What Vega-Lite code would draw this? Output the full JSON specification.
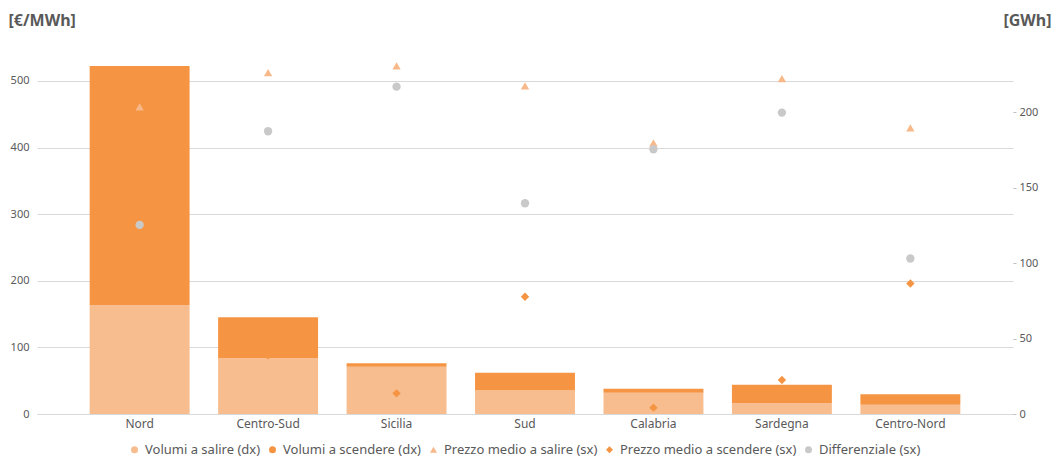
{
  "$schema": "https://vega.github.io/schema/vega-lite/v6.json",
  "width": 976,
  "height": 353,
  "autosize": {"type": "none"},
  "padding": {"left": 37, "top": 61, "right": 40, "bottom": 45},
  "background": "white",
  "config": {
    "font": "Noto Sans",
    "view": {"stroke": null},
    "axis": {"labelColor": "#595959", "labelFontSize": 11, "titleColor": "#595959"},
    "legend": {"labelColor": "#595959", "labelFontSize": 13}
  },
  "data": {
    "values": [
      {"regione": "Nord", "serie": "Volumi a salire (dx)", "valore": 72},
      {"regione": "Nord", "serie": "Volumi a scendere (dx)", "valore": 158.5},
      {"regione": "Centro-Sud", "serie": "Volumi a salire (dx)", "valore": 37},
      {"regione": "Centro-Sud", "serie": "Volumi a scendere (dx)", "valore": 27},
      {"regione": "Sicilia", "serie": "Volumi a salire (dx)", "valore": 31.3},
      {"regione": "Sicilia", "serie": "Volumi a scendere (dx)", "valore": 2.3},
      {"regione": "Sud", "serie": "Volumi a salire (dx)", "valore": 15.9},
      {"regione": "Sud", "serie": "Volumi a scendere (dx)", "valore": 11.5},
      {"regione": "Calabria", "serie": "Volumi a salire (dx)", "valore": 14.1},
      {"regione": "Calabria", "serie": "Volumi a scendere (dx)", "valore": 2.7},
      {"regione": "Sardegna", "serie": "Volumi a salire (dx)", "valore": 7.1},
      {"regione": "Sardegna", "serie": "Volumi a scendere (dx)", "valore": 12.3},
      {"regione": "Centro-Nord", "serie": "Volumi a salire (dx)", "valore": 6.2},
      {"regione": "Centro-Nord", "serie": "Volumi a scendere (dx)", "valore": 6.8},
      {"regione": "Nord", "serie": "Prezzo medio a salire (sx)", "valore": 461},
      {"regione": "Nord", "serie": "Prezzo medio a scendere (sx)", "valore": 177},
      {"regione": "Nord", "serie": "Differenziale (sx)", "valore": 284},
      {"regione": "Centro-Sud", "serie": "Prezzo medio a salire (sx)", "valore": 512.5},
      {"regione": "Centro-Sud", "serie": "Prezzo medio a scendere (sx)", "valore": 88},
      {"regione": "Centro-Sud", "serie": "Differenziale (sx)", "valore": 424.5},
      {"regione": "Sicilia", "serie": "Prezzo medio a salire (sx)", "valore": 522.5},
      {"regione": "Sicilia", "serie": "Prezzo medio a scendere (sx)", "valore": 31},
      {"regione": "Sicilia", "serie": "Differenziale (sx)", "valore": 491.5},
      {"regione": "Sud", "serie": "Prezzo medio a salire (sx)", "valore": 492.5},
      {"regione": "Sud", "serie": "Prezzo medio a scendere (sx)", "valore": 176},
      {"regione": "Sud", "serie": "Differenziale (sx)", "valore": 316.5},
      {"regione": "Calabria", "serie": "Prezzo medio a salire (sx)", "valore": 407},
      {"regione": "Calabria", "serie": "Prezzo medio a scendere (sx)", "valore": 9.5},
      {"regione": "Calabria", "serie": "Differenziale (sx)", "valore": 397.5},
      {"regione": "Sardegna", "serie": "Prezzo medio a salire (sx)", "valore": 503.5},
      {"regione": "Sardegna", "serie": "Prezzo medio a scendere (sx)", "valore": 51},
      {"regione": "Sardegna", "serie": "Differenziale (sx)", "valore": 452.5},
      {"regione": "Centro-Nord", "serie": "Prezzo medio a salire (sx)", "valore": 429.5},
      {"regione": "Centro-Nord", "serie": "Prezzo medio a scendere (sx)", "valore": 196},
      {"regione": "Centro-Nord", "serie": "Differenziale (sx)", "valore": 233.5}
    ]
  },
  "encoding": {
    "x": {
      "field": "regione", "type": "nominal", "sort": null,
      "scale": {"paddingInner": 0.222, "paddingOuter": 0.41},
      "axis": {"title": null, "labelAngle": 0, "ticks": false, "domainColor": "#D9D9D9", "labelPadding": 4, "labelFontSize": 12, "labelColor": "#595959"}
    }
  },
  "layer": [
    {
      "transform": [{"filter": "indexof(datum.serie, 'Volumi') == 0"}],
      "mark": {"type": "bar"},
      "encoding": {
        "y": {
          "field": "valore", "type": "quantitative", "stack": "zero",
          "scale": {"domain": [0, 233.8], "nice": false},
          "axis": {
            "orient": "right", "values": [0, 50, 100, 150, 200], "grid": false, "domain": false,
            "tickSize": 3, "tickColor": "#BFBFBF", "labelPadding": 3, "labelColor": "#595959",
            "title": "[GWh]", "titleAngle": 0, "titleAlign": "right", "titleBaseline": "middle",
            "titleX": 38, "titleY": -41, "titleFontSize": 16, "titleFontWeight": "bold", "titleColor": "#595959"
          }
        },
        "color": {"field": "serie", "type": "nominal"},
        "order": {"field": "serie", "sort": "ascending"}
      }
    },
    {
      "transform": [{"filter": "indexof(datum.serie, 'Volumi') != 0"}],
      "mark": {"type": "point", "filled": true, "opacity": 1, "size": 70},
      "encoding": {
        "y": {
          "field": "valore", "type": "quantitative",
          "scale": {"domain": [0, 530], "nice": false},
          "axis": {
            "orient": "left", "values": [0, 100, 200, 300, 400, 500], "grid": true, "gridColor": "#D9D9D9",
            "domain": false, "ticks": false, "labelPadding": 8, "labelColor": "#595959",
            "title": "[€/MWh]", "titleAngle": 0, "titleAlign": "left", "titleBaseline": "middle",
            "titleX": -29, "titleY": -41, "titleFontSize": 16, "titleFontWeight": "bold", "titleColor": "#595959"
          }
        },
        "color": {
          "field": "serie", "type": "nominal",
          "scale": {
            "domain": ["Volumi a salire (dx)", "Volumi a scendere (dx)", "Prezzo medio a salire (sx)", "Prezzo medio a scendere (sx)", "Differenziale (sx)"],
            "range": ["#F8BD8F", "#F59543", "#F8B98A", "#F59543", "#C9C9C9"]
          },
          "legend": {"title": null, "orient": "none", "legendX": 91, "legendY": 382, "direction": "horizontal", "symbolSize": 49, "columnPadding": 5, "labelOffset": 4, "labelLimit": 400}
        },
        "shape": {
          "field": "serie", "type": "nominal",
          "scale": {
            "domain": ["Volumi a salire (dx)", "Volumi a scendere (dx)", "Prezzo medio a salire (sx)", "Prezzo medio a scendere (sx)", "Differenziale (sx)"],
            "range": ["circle", "circle", "triangle-up", "diamond", "circle"]
          },
          "legend": {"title": null, "orient": "none", "legendX": 91, "legendY": 382, "direction": "horizontal", "symbolSize": 49, "columnPadding": 5, "labelOffset": 4, "labelLimit": 400}
        }
      }
    }
  ],
  "resolve": {"scale": {"y": "independent"}}
}
